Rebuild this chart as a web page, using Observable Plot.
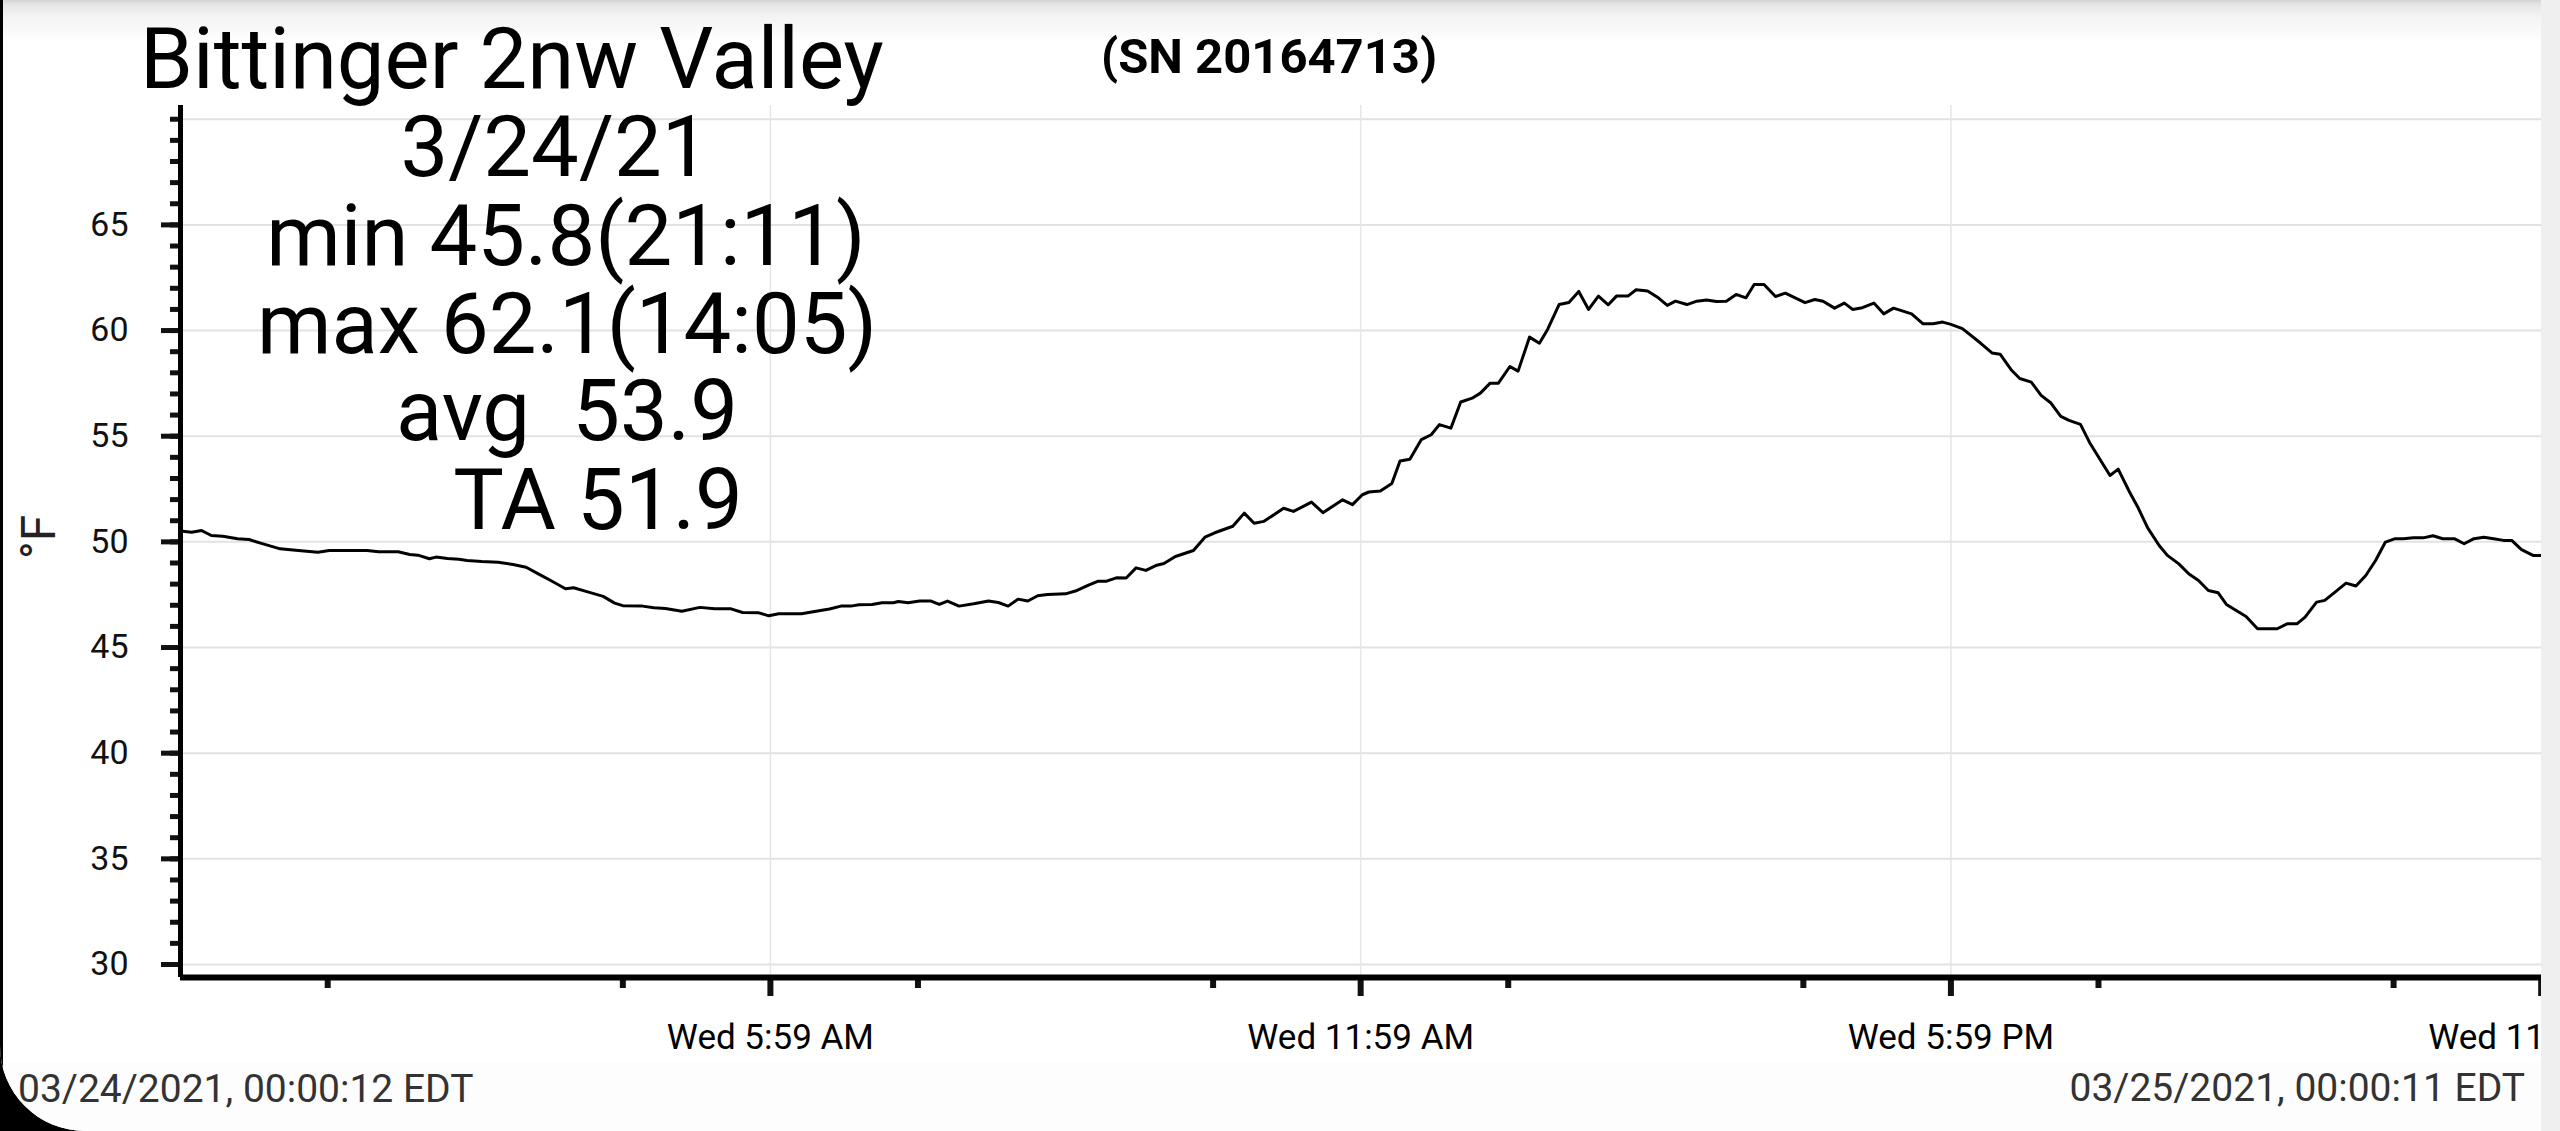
<!DOCTYPE html>
<html>
<head>
<meta charset="utf-8">
<script src="https://cdn.jsdelivr.net/npm/d3@7"></script>
<script src="https://cdn.jsdelivr.net/npm/@observablehq/plot@0.6"></script>
<style>
html,body{margin:0;padding:0;background:#000;width:2560px;height:1131px;overflow:hidden;font-family:Roboto,sans-serif;}
#page{position:absolute;left:0;top:0;width:2560px;height:1131px;background:#fff;border-bottom-left-radius:85px;overflow:hidden;}
#topbar{position:absolute;left:0;top:0;width:2560px;height:42px;background:linear-gradient(#d2d2d2 0px,#e4e4e4 4px,#f3f3f3 16px,#ffffff 42px);}
#footer{position:absolute;left:0;top:1062px;width:2560px;height:69px;background:#fdfdfd;}
#chart{position:absolute;left:0;top:0;}
#rightstrip{position:absolute;left:2541px;top:0;width:19px;height:1131px;background:#efefef;}
#leftstrip{position:absolute;left:0;top:0;width:3px;height:1131px;background:#000;}
.t{position:absolute;white-space:pre;line-height:1;color:#000;font-family:Roboto,sans-serif;}
.s{font-size:85px;width:1000px;text-align:center;}
</style>
</head>
<body>
<div id="page">
  <div id="topbar"></div>
  <div id="footer"></div>
  <div id="chart"></div>
  <div id="rightstrip"></div>
  <div id="leftstrip"></div>
  <div class="t" style="left:140px;top:17px;font-size:85px;">Bittinger 2nw Valley</div>
  <div class="t" style="left:1101px;top:32px;font-size:49px;font-weight:bold;">(SN 20164713)</div>
  <div class="t s" style="left:55px;top:105px;">3/24/21</div>
  <div class="t s" style="left:66px;top:193.5px;">min 45.8(21:11)</div>
  <div class="t s" style="left:67px;top:281.5px;">max 62.1(14:05)</div>
  <div class="t s" style="left:67px;top:368.5px;">avg  53.9</div>
  <div class="t s" style="left:98px;top:458px;">TA 51.9</div>
  <div class="t" style="left:-11.5px;top:513px;width:100px;text-align:center;font-size:48px;color:#222;transform:rotate(-90deg);">°F</div>
  <div class="t" style="left:18px;top:1070px;font-size:39px;color:#333;">03/24/2021, 00:00:12 EDT</div>
  <div class="t" style="right:35px;top:1069px;font-size:39px;color:#333;">03/25/2021, 00:00:11 EDT</div>
</div>
<script>
// minutes after midnight, 03/24/2021
const minutes = [0.2, 7, 13, 19, 26, 35, 42, 49, 61, 72, 84, 91, 114, 121, 133, 140, 145, 152, 156, 163, 170, 175, 184, 194, 203, 211, 219, 226, 235, 240, 247, 258, 265, 270, 282, 289, 296, 306, 317, 326, 336, 343, 353, 359,
  365, 379, 386, 396, 403, 409, 414, 422, 428, 435, 438, 444, 451, 458, 463, 468, 475, 484, 493, 499, 505, 511, 517, 523, 529, 540, 547, 554, 560, 565, 571, 577, 583, 589, 595, 600, 607, 618, 625, 631, 642, 649, 655, 661, 673, 679, 690, 697, 709, 715, 721,
  725, 732, 739, 744, 750, 757, 763, 768, 775, 781, 788, 793, 799, 804, 811, 816, 823, 829, 834, 841, 847, 853, 859, 865, 871, 876, 883, 888, 895, 901, 907, 912, 919, 925, 931, 937, 943, 949, 955, 960, 966, 973, 979, 985, 991, 997, 1002, 1009, 1015, 1020, 1026, 1033, 1039, 1045, 1056, 1063, 1069, 1075, 1080,
  1087, 1098, 1105, 1110, 1117, 1122, 1129, 1135, 1141, 1147, 1152, 1159, 1165, 1177, 1182, 1189, 1194, 1200, 1207, 1212, 1219, 1225, 1231, 1237, 1243, 1248, 1254, 1260, 1267, 1279, 1285, 1291, 1296, 1303, 1308, 1315, 1321, 1327, 1333, 1339, 1345, 1351, 1356, 1362, 1368, 1374, 1380, 1387, 1393, 1399, 1405, 1411, 1417, 1422, 1428, 1435, 1440];
const temps = [50.51, 50.46, 50.54, 50.30, 50.27, 50.15, 50.11, 49.94, 49.67, 49.59, 49.51, 49.59, 49.59, 49.53, 49.53, 49.40, 49.37, 49.20, 49.28, 49.21, 49.18, 49.12, 49.07, 49.04, 48.93, 48.80, 48.46, 48.17, 47.78, 47.83, 47.67, 47.42, 47.10, 46.98, 46.96, 46.88, 46.85, 46.72, 46.90, 46.83, 46.83, 46.66, 46.64, 46.50,
  46.60, 46.60, 46.69, 46.82, 46.96, 46.96, 47.02, 47.04, 47.12, 47.12, 47.18, 47.12, 47.20, 47.20, 47.04, 47.20, 46.96, 47.07, 47.20, 47.13, 46.96, 47.29, 47.20, 47.45, 47.51, 47.54, 47.70, 47.95, 48.14, 48.14, 48.30, 48.29, 48.77, 48.65, 48.88, 48.98, 49.31, 49.59, 50.22, 50.43, 50.74, 51.36, 50.88, 50.97, 51.59, 51.44, 51.88, 51.38, 51.99, 51.76, 52.23,
  52.36, 52.41, 52.76, 53.83, 53.91, 54.84, 55.07, 55.55, 55.38, 56.62, 56.80, 57.04, 57.51, 57.51, 58.30, 58.08, 59.69, 59.40, 60.05, 61.23, 61.33, 61.85, 61.00, 61.63, 61.22, 61.63, 61.63, 61.93, 61.87, 61.58, 61.19, 61.39, 61.23, 61.39, 61.45, 61.37, 61.39, 61.71, 61.55, 62.18, 62.18, 61.61, 61.77, 61.55, 61.32, 61.47, 61.39, 61.06, 61.30, 61.00, 61.08, 61.30, 60.79, 61.06, 60.79, 60.32, 60.32, 60.40, 60.29,
  60.09, 59.41, 58.94, 58.88, 58.12, 57.73, 57.56, 56.93, 56.57, 55.94, 55.75, 55.56, 54.64, 53.14, 53.44, 52.35, 51.64, 50.66, 49.83, 49.36, 48.96, 48.49, 48.17, 47.70, 47.59, 47.04, 46.75, 46.47, 45.89, 45.89, 46.12, 46.12, 46.44, 47.15, 47.23, 47.67, 48.05, 47.91, 48.41, 49.12, 49.99, 50.15, 50.15, 50.19, 50.19, 50.29, 50.15, 50.15, 49.91, 50.15, 50.22, 50.15, 50.07, 50.07, 49.63, 49.36, 49.36];

const dayStart = "2021-03-24T00:00:00Z";
const domainStart = "2021-03-24T00:00:12Z";
const domainEnd = "2021-03-25T00:00:11Z";
const xTickTimes = ["2021-03-24T05:59:59Z", "2021-03-24T11:59:59Z", "2021-03-24T17:59:59Z", "2021-03-24T23:59:59Z"];
const xTickLabels = ["Wed 5:59 AM", "Wed 11:59 AM", "Wed 5:59 PM", "Wed 11:59 PM"];
const xGridTimes = ["2021-03-24T05:59:59Z", "2021-03-24T11:59:59Z", "2021-03-24T17:59:59Z"];
const xMinorTimes = ["2021-03-24T01:29:59Z", "2021-03-24T04:29:59Z", "2021-03-24T07:29:59Z", "2021-03-24T10:29:59Z", "2021-03-24T13:29:59Z", "2021-03-24T16:29:59Z", "2021-03-24T19:29:59Z", "2021-03-24T22:29:59Z"];
const yTickLabels = [30, 35, 40, 45, 50, 55, 60, 65];
const yGridValues = [30, 35, 40, 45, 50, 55, 60, 65, 70];
const yMinorValues = [30, 31, 32, 33, 34, 35, 36, 37, 38, 39, 40, 41, 42, 43, 44, 45, 46, 47, 48, 49, 50, 51, 52, 53, 54, 55, 56, 57, 58, 59, 60, 61, 62, 63, 64, 65, 66, 67, 68, 69, 70];
const yDomain = [29.385, 70.65];

const t0 = Date.parse(dayStart);
const data = minutes.map((m, i) => ({time: new Date(t0 + m * 60000), temp: temps[i]}));
const xMajor = xTickTimes.map(d => new Date(d));
const xMinor = xMinorTimes.map(d => new Date(d));
const xGrid = xGridTimes.map(d => new Date(d));

const chart = Plot.plot({
  width: 2560,
  height: 1062,
  marginLeft: 180,
  marginRight: 19,
  marginTop: 105,
  marginBottom: 85,
  style: {fontFamily: "Roboto", background: "transparent", color: "#111", overflow: "visible"},
  x: {type: "utc", domain: [new Date(domainStart), new Date(domainEnd)]},
  y: {domain: yDomain},
  marks: [
    Plot.gridY(yGridValues, {stroke: "#e2e2e2", strokeOpacity: 1, strokeWidth: 2}),
    Plot.gridX(xGrid, {stroke: "#e6e6e6", strokeOpacity: 1, strokeWidth: 1.5}),
    Plot.axisY(yMinorValues, {tickSize: 10, strokeWidth: 5, tickFormat: () => "", label: null}),
    Plot.axisY(yTickLabels, {tickSize: 19, tickPadding: 33, strokeWidth: 5, fontSize: 34, label: null}),
    Plot.axisX(xMinor, {tickSize: 11, strokeWidth: 6, tickFormat: () => "", label: null}),
    Plot.axisX(xMajor, {tickSize: 19, tickPadding: 28, strokeWidth: 6, fontSize: 35, fill: "#000",
      tickFormat: d => xTickLabels[xMajor.findIndex(t => +t === +d)], label: null}),
    Plot.ruleX([new Date(domainStart)], {stroke: "#000", strokeWidth: 5}),
    Plot.ruleY([yDomain[0]], {stroke: "#000", strokeWidth: 6}),
    Plot.lineY(data, {x: "time", y: "temp", stroke: "#000", strokeWidth: 3})
  ]
});
document.getElementById("chart").appendChild(chart);
</script>
</body>
</html>
